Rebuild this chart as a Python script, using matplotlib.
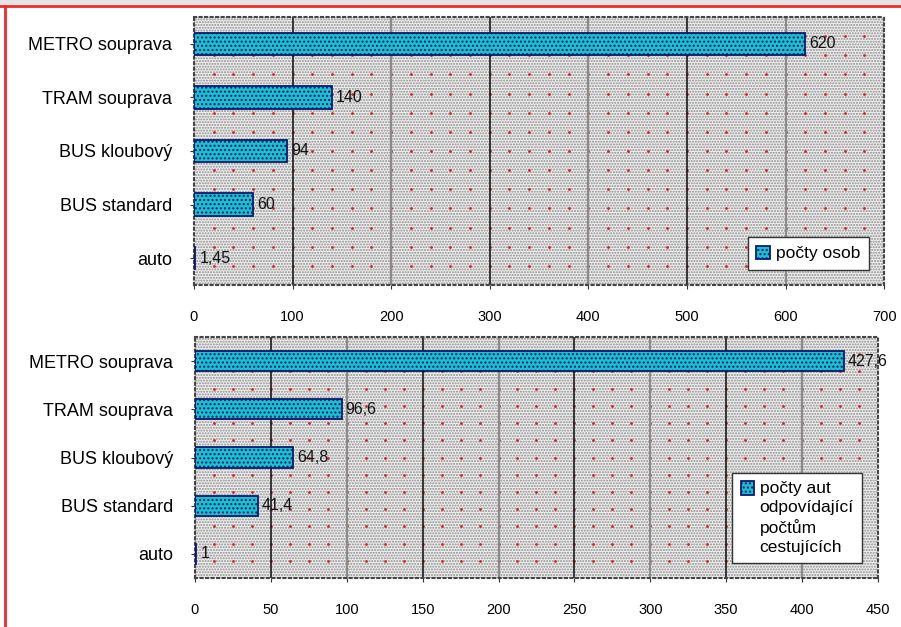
import numpy as np
import matplotlib
matplotlib.use("Agg")
import matplotlib.pyplot as plt
from matplotlib.patches import Rectangle
from matplotlib.lines import Line2D

plt.rcParams["font.family"] = ["Liberation Sans", "DejaVu Sans"]

categories = ["METRO souprava", "TRAM souprava", "BUS kloubový", "BUS standard", "auto"]
persons = [620, 140, 94, 60, 1.45]
cars = [427.6, 96.6, 64.8, 41.4, 1]
persons_labels = ["620", "140", "94", "60", "1,45"]
cars_labels = ["427,6", "96,6", "64,8", "41,4", "1"]

BAR = "#18c2d0"
EDGE = "#0a1a6e"

plt.rcParams["hatch.color"] = EDGE
plt.rcParams["hatch.linewidth"] = 1.0

fig = plt.figure(figsize=(9.01, 6.27), dpi=100)
fig.patch.set_facecolor("white")
# frame decoration along top/left edges
fig.add_artist(Rectangle((0, 0.992), 1, 0.008, transform=fig.transFigure, color="#e4e4e4", lw=0))
fig.add_artist(Line2D([0, 1], [0.991, 0.991], transform=fig.transFigure, color="#ee2a2a", lw=2))
fig.add_artist(Line2D([0.005, 0.005], [0, 0.991], transform=fig.transFigure, color="#ee2a2a", lw=2))


def panel(rect, values, labels, xmax, step, dot_step, legend_text):
    ax = fig.add_axes(rect)
    y = np.arange(len(categories))
    ax.set_facecolor("#e0e0e0")
    ax.add_patch(Rectangle((0, 0), 1, 1, transform=ax.transAxes, facecolor="#f0f0f0",
                           edgecolor="#8a8a8a", hatch="......", lw=0, zorder=0))
    # red dot lattice
    dx = np.arange(dot_step, xmax, dot_step)
    dy = np.linspace(-0.5, 4.5, 15)[1:-1]
    gx, gy = np.meshgrid(dx, dy)
    ax.scatter(gx.ravel(), gy.ravel(), s=4, color="#d42020", lw=0, zorder=1)
    # vertical grid lines, alternating shade
    for i, xv in enumerate(np.arange(step, xmax, step)):
        ax.axvline(xv, color="#1a1a1a" if i % 2 == 0 else "#8a8a8a", lw=1.6 if i % 2 else 1.2, zorder=1)
    ax.barh(y, values, height=0.42, color=BAR, edgecolor=EDGE, lw=1.3,
            hatch="....", label=legend_text, zorder=3)
    for yi, v, t in zip(y, values, labels):
        ax.text(v + xmax * 0.006, yi, t, va="center", ha="left", fontsize=11.5, color="#111111", zorder=4)
    ax.set_xlim(0, xmax)
    ax.set_ylim(4.5, -0.5)
    ax.set_yticks(y)
    ax.set_yticklabels(categories, fontsize=13)
    ax.set_xticks(np.arange(0, xmax + 1, step))
    ax.tick_params(axis="x", labelsize=10.5, pad=15, length=3, color="#333333")
    ax.tick_params(axis="y", pad=13, length=3, color="#333333")
    for s in ax.spines.values():
        s.set_color("#444444")
        s.set_linestyle(":")
        s.set_linewidth(1.5)
    leg = ax.legend(loc="lower right", fontsize=12.5, frameon=True, fancybox=False,
                    handlelength=0.8, handleheight=0.8, handletextpad=0.3,
                    borderpad=0.5, bbox_to_anchor=(0.99, 0.025))
    leg.get_frame().set_edgecolor("#333333")
    leg.get_frame().set_linewidth(1.0)
    leg.get_frame().set_alpha(1)
    for t in leg.get_texts():
        t.set_linespacing(1.3)
    # keep the swatch level with the first line of a wrapped label
    for col in leg._legend_handle_box.get_children():
        for item in col.get_children():
            item.align = "top"
    return ax


panel([0.2153, 0.5455, 0.766, 0.4274], persons, persons_labels, 700, 100, 20,
      "počty osob")
panel([0.2164, 0.0781, 0.758, 0.3844], cars, cars_labels, 450, 50, 12.5,
      "počty aut\nodpovídající\npočtům\ncestujících")

fig.savefig("out.png", dpi=100)
